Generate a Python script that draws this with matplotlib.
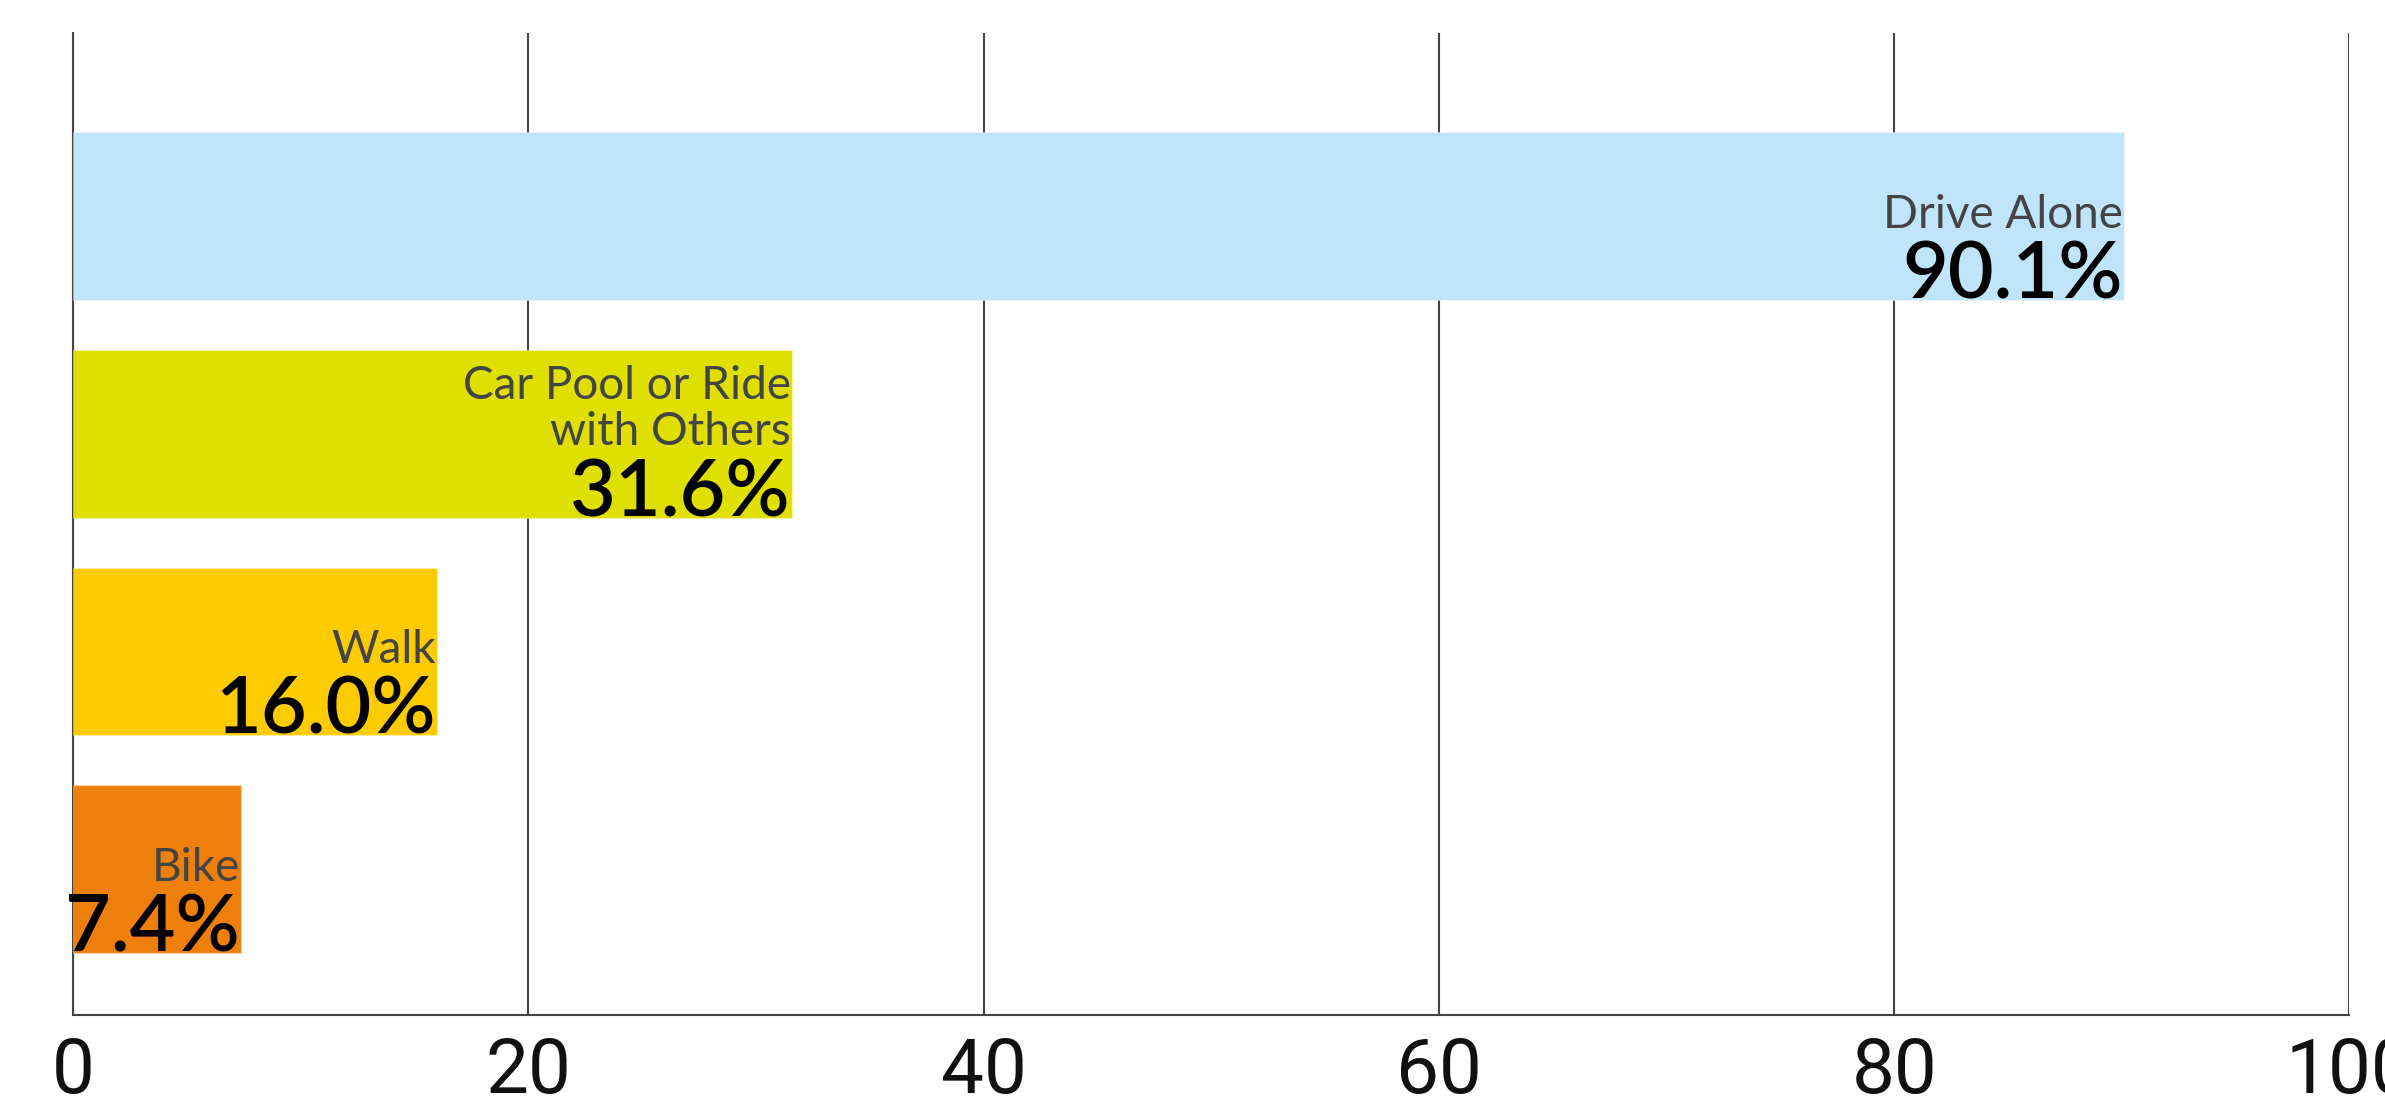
import matplotlib
matplotlib.use("Agg")
import matplotlib.pyplot as plt

categories = ["Drive Alone", "Car Pool or Ride\nwith Others", "Walk", "Bike"]
values = [90.1, 31.6, 16.0, 7.4]
value_labels = ["90.1%", "31.6%", "16.0%", "7.4%"]
colors = ["#C0E5FA", "#DFE000", "#FCCB00", "#EF7F0B"]
xticks = [0, 20, 40, 60, 80, 100]

plt.rcParams['font.family'] = ['Lato', 'DejaVu Sans']

fig = plt.figure(figsize=(23.85, 11.12), dpi=100)
ax = fig.add_axes([0.0306, 0.087, 0.9545, 0.883])

n = len(categories)
ypos = [n - 1 - i for i in range(n)]
bar_h = 0.77
ax.barh(ypos, values, height=bar_h, color=colors, edgecolor="#ffffff40",
        linewidth=1.0, zorder=3)

ax.set_xlim(0, 100)
ax.set_ylim(-0.671, 3.839)
ax.set_xticks(xticks)
ax.set_xticklabels([str(t) for t in xticks], fontsize=55, family=['Roboto'],
                   fontweight='normal', color="#111111")
ax.tick_params(axis='x', length=0, pad=15)
ax.set_yticks([])
ax.grid(axis='x', color="#444444", linewidth=1.5, zorder=0)
ax.set_axisbelow(True)
for s in ["top", "right"]:
    ax.spines[s].set_visible(False)
for s in ["left", "bottom"]:
    ax.spines[s].set_color("#444444")
    ax.spines[s].set_linewidth(1.5)
    ax.spines[s].set_zorder(1)

for y, v, cat, lab in zip(ypos, values, categories, value_labels):
    bottom = y - bar_h / 2
    ax.annotate(lab, xy=(v, bottom), xytext=(-1, 1), textcoords="offset points",
                ha="right", va="baseline", fontsize=57, fontweight=600,
                color="#000000", zorder=5)
    ax.annotate(cat, xy=(v, bottom), xytext=(-1, 52), textcoords="offset points",
                ha="right", va="baseline", fontsize=33, color="#444444",
                linespacing=1.12, zorder=5)

fig.savefig("out.png", dpi=100)
